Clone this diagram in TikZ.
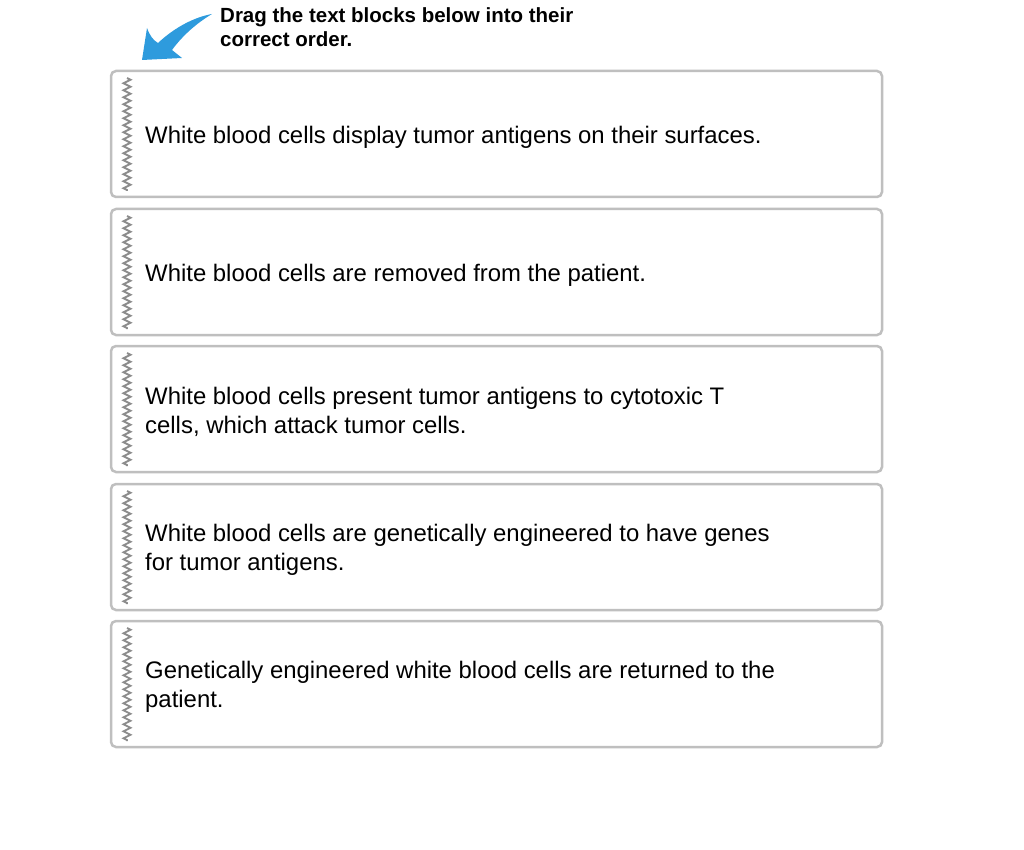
\documentclass[tikz,border=0pt]{standalone}
\usepackage{fontspec}
\setmainfont{Liberation Sans}
\usetikzlibrary{decorations.pathmorphing}
\begin{document}
\begin{tikzpicture}[x=1pt,y=-1pt,
  card/.style={draw=black!25,line width=2.5pt,rounded corners=5pt,fill=white},
  grip/.style={draw=black!45,line width=1.8pt,decorate,decoration={zigzag,segment length=7pt,amplitude=3.5pt}},
  lbl/.style={anchor=west,align=left,font=\fontsize{23.9}{29}\selectfont,inner sep=0pt}]
\useasboundingbox (0,0) rectangle (1024,850);
\fill[cyan!75!blue!85] (142,60) -- (147,28) .. controls (150,36) and (153,40) .. (158,43)
  .. controls (175,27) and (195,17) .. (212,14)
  .. controls (197,23) and (183,35) .. (172,50) -- (182,58) -- cycle;
\node[anchor=north west,align=left,inner sep=0pt,font=\bfseries\fontsize{20.5}{24}\selectfont] (t) at (220,7) {Drag the text blocks below into their\\correct order.};
\foreach \i/\y/\txt in {1/71/{White blood cells display tumor antigens on their surfaces.},
  2/209/{White blood cells are removed from the patient.},
  3/346/{White blood cells present tumor antigens to cytotoxic T\\cells, which attack tumor cells.},
  4/484/{White blood cells are genetically engineered to have genes\\for tumor antigens.},
  5/621/{Genetically engineered white blood cells are returned to the\\patient.}}{
  \draw[card] (111,\y) rectangle (882,\y+126);
  \draw[grip] (127,\y+7) -- (127,\y+120);
  \node[lbl] (b\i) at (145,\y+66) {\txt};
}
\end{tikzpicture}
\end{document}
